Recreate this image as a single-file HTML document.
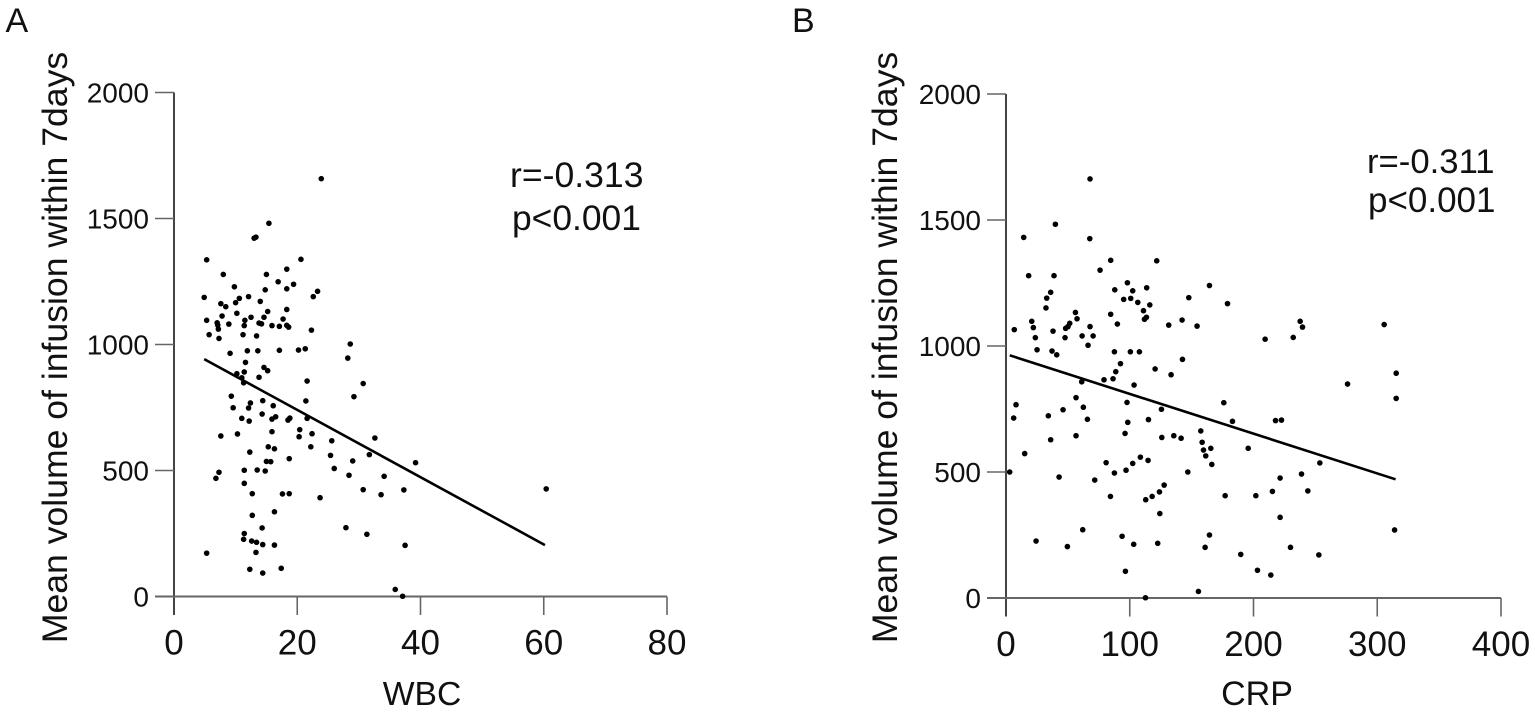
<!DOCTYPE html>
<html>
<head>
<meta charset="utf-8">
<title>Infusion volume correlations</title>
<style>
html,body{margin:0;padding:0;background:#fff;width:1535px;height:713px;overflow:hidden}
svg{display:block}
text{font-family:"Liberation Sans",Arial,sans-serif;fill:#111}
</style>
</head>
<body>
<svg id="chart" width="1535" height="713" viewBox="0 0 1535 713" xmlns="http://www.w3.org/2000/svg">
  <text x="5.5" y="32" font-size="34">A</text>
  <text x="792" y="32" font-size="34">B</text>
  <text transform="translate(67,347.5) rotate(-90)" text-anchor="middle" font-size="35.6">Mean volume of infusion within 7days</text>
  <text transform="translate(897,347.5) rotate(-90)" text-anchor="middle" font-size="35.6">Mean volume of infusion within 7days</text>
  <text x="422" y="705" text-anchor="middle" font-size="33.7">WBC</text>
  <text x="1257" y="705" text-anchor="middle" font-size="34">CRP</text>
  <text x="510" y="187" font-size="35.6">r=-0.313</text>
  <text x="512" y="230" font-size="35.4">p&lt;0.001</text>
  <text x="1367" y="173" font-size="34.7">r=-0.311</text>
  <text x="1368" y="212" font-size="35">p&lt;0.001</text>
</svg>
<script>
const volumeTicks = [0, 500, 1000, 1500, 2000];
const wbcTicks = [0, 20, 40, 60, 80];
const crpTicks = [0, 100, 200, 300, 400];

const wbcValues = [23.9,15.4,13.3,13.0,5.3,20.6,18.3,8.0,15.0,16.9,19.4,9.8,18.3,14.8,23.3,22.6,4.9,10.6,12.1,10.0,14.0,7.6,8.4,18.3,15.2,10.2,7.8,12.5,14.6,17.7,5.3,11.5,7.0,7.1,8.9,13.8,14.2,11.4,15.9,17.1,18.3,18.6,7.2,22.3,5.7,7.3,11.2,13.4,28.6,9.1,11.9,13.6,17.1,20.2,21.3,28.2,11.6,14.6,15.2,11.4,10.2,11.0,13.8,21.6,11.3,9.3,9.6,12.4,12.1,14.4,16.1,21.4,29.2,14.3,11.0,12.2,16.5,15.9,18.8,18.5,21.6,15.9,20.4,20.3,22.4,7.6,10.3,25.6,15.3,16.3,22.2,12.3,25.4,18.7,15.0,15.7,29.0,7.3,11.4,13.5,14.8,26.0,6.8,28.4,11.4,12.7,17.6,18.7,23.7,16.3,12.7,14.3,27.9,11.4,11.3,12.6,13.4,14.4,16.3,5.3,13.3,12.3,14.4,17.4,30.7,32.6,31.7,34.1,30.7,33.6,37.3,39.2,31.3,37.5,60.4,35.9,37.1];
const wbcVolumes = [1658,1481,1426,1422,1336,1338,1299,1278,1278,1249,1239,1229,1221,1217,1211,1190,1187,1183,1190,1166,1171,1162,1150,1139,1131,1124,1113,1108,1108,1101,1096,1096,1086,1077,1081,1085,1082,1075,1075,1072,1076,1069,1061,1057,1039,1024,1039,1034,1002,965,975,975,977,978,983,946,929,909,896,891,884,868,870,855,848,795,749,768,748,777,757,776,793,724,707,696,713,704,708,700,707,654,662,634,646,637,645,618,594,586,594,573,560,547,536,535,538,493,501,502,498,508,469,481,449,408,407,408,392,336,322,272,273,250,227,220,215,206,204,172,175,108,93,112,845,629,563,477,424,404,423,531,247,203,427,28,1];
const wbcFitX = [4.9, 60.2];
const wbcFitY = [942, 204];

const crpValues = [67.9,39.9,14.3,67.7,84.6,121.8,76.0,18.3,38.8,98.1,87.9,102.4,113.7,36.1,32.9,95.1,100.8,106.5,147.7,116.2,32.3,111.1,56.1,84.6,57.4,113.5,111.9,20.8,142.3,51.5,90.0,131.5,154.4,22.1,67.9,50.1,48.2,6.7,38.0,61.5,70.4,23.7,47.7,66.3,25.1,37.2,41.0,87.6,100.5,107.8,142.6,92.5,120.5,88.7,133.4,79.2,86.5,61.2,103.5,56.6,97.8,8.1,62.5,46.1,125.6,34.2,6.2,65.8,115.1,98.4,96.2,56.6,36.1,125.9,135.6,141.5,15.1,108.6,114.8,102.4,80.9,87.6,97.0,146.9,3.0,42.9,71.7,127.8,124.0,118.1,112.9,84.4,124.3,62.0,93.8,24.3,49.6,103.2,122.6,96.5,155.5,112.7,164.4,179.0,237.7,239.6,232.1,209.4,305.6,315.3,276.0,315.3,176.0,183.0,217.8,222.6,157.4,158.5,159.6,165.5,161.4,166.3,195.7,253.6,221.5,238.8,215.3,243.9,177.1,201.9,221.5,164.4,314.0,160.9,229.9,189.7,252.8,203.2,214.0];
const crpVolumes = [1663,1483,1431,1426,1340,1338,1301,1279,1279,1251,1223,1219,1231,1213,1190,1185,1189,1173,1192,1163,1151,1140,1133,1126,1108,1114,1106,1098,1103,1090,1087,1083,1079,1073,1077,1077,1070,1065,1059,1040,1040,1033,1033,1003,985,980,965,977,977,977,947,930,909,898,886,866,870,858,845,795,776,767,757,747,749,723,714,709,708,697,653,644,628,637,644,634,573,559,546,534,537,496,507,500,500,480,468,448,421,403,390,403,335,271,245,226,204,213,217,106,26,1,1240,1168,1098,1075,1034,1027,1085,892,849,792,775,701,704,706,663,618,587,594,564,530,594,536,476,492,423,425,406,406,320,250,270,201,201,173,171,110,91];
const crpFitX = [3.0, 314.8];
const crpFitY = [963, 471];

const svg = document.getElementById('chart');
const NS = 'http://www.w3.org/2000/svg';

function wbcX(v) { return 174 + v * (667 - 174) / 80; }
function wbcY(v) { return 596.5 - v * 0.252; }
function crpX(v) { return 1006 + v * (1501 - 1006) / 400; }
function crpY(v) { return 598 - v * 0.252; }

function makeLine(x1, y1, x2, y2, stroke, width) {
  const l = document.createElementNS(NS, 'line');
  l.setAttribute('x1', x1);
  l.setAttribute('y1', y1);
  l.setAttribute('x2', x2);
  l.setAttribute('y2', y2);
  l.setAttribute('stroke', stroke);
  l.setAttribute('stroke-width', width);
  svg.appendChild(l);
  return l;
}

function makeLabel(x, y, text, anchor, size) {
  const t = document.createElementNS(NS, 'text');
  t.setAttribute('x', x);
  t.setAttribute('y', y);
  t.setAttribute('text-anchor', anchor);
  t.setAttribute('font-size', size);
  t.textContent = text;
  svg.appendChild(t);
  return t;
}

function drawPanel(sx, sy, xTicks, xs, ys, fitX, fitY) {
  const axisColor = '#444';
  const x0 = sx(0);
  const y0 = sy(0);
  const yAxis = makeLine(x0, sy(2000), x0, y0 + 18.5, axisColor, 2);
  
  
  const xAxis = makeLine(x0 - 19, y0, sx(xTicks[xTicks.length - 1]), y0, '#666', 2);
  
  

  volumeTicks.forEach(function (v) {
    if (v > 0) {
      const tk = makeLine(x0 - 19, sy(v), x0, sy(v), '#666', 1.6);
      
      
    }
    const lb = makeLabel(x0 - 25, sy(v) + 10, String(v), 'end', 28);
    
    
  });

  xTicks.forEach(function (v, i) {
    if (i > 0) {
      const tk = makeLine(sx(v), y0, sx(v), y0 + 18.5, '#666', 1.6);
      
      
    }
    const lb = makeLabel(sx(v), y0 + 58, String(v), 'middle', 35);
    
    
  });

  xs.forEach(function (v, i) {
    const c = document.createElementNS(NS, 'circle');
    c.setAttribute('cx', sx(v));
    c.setAttribute('cy', sy(ys[i]));
    c.setAttribute('r', 2.8);
    c.setAttribute('fill', '#000');
    
    
    svg.appendChild(c);
  });

  const fit = makeLine(sx(fitX[0]), sy(fitY[0]), sx(fitX[1]), sy(fitY[1]), '#000', 2.6);
  
  
}

drawPanel(wbcX, wbcY, wbcTicks, wbcValues, wbcVolumes, wbcFitX, wbcFitY);
drawPanel(crpX, crpY, crpTicks, crpValues, crpVolumes, crpFitX, crpFitY);
</script>
</body>
</html>
